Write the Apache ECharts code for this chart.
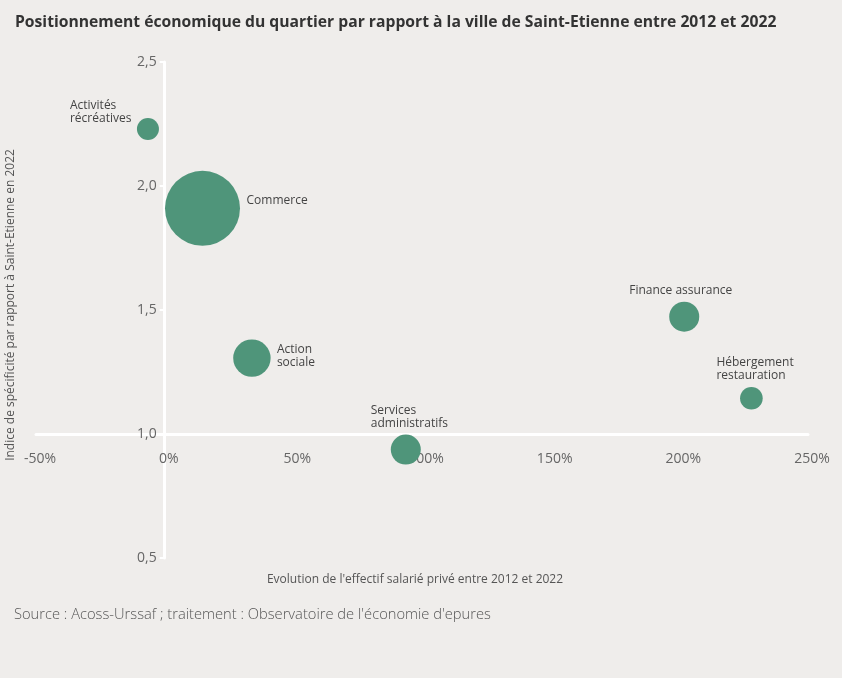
<!DOCTYPE html>
<html>
<head>
<meta charset="utf-8">
<script src="https://cdn.jsdelivr.net/npm/echarts@6/dist/echarts.min.js"></script>
<style>
  html, body { margin: 0; padding: 0; background: #efedeb; }
  #chart { width: 842px; height: 678px; }
</style>
</head>
<body>
<div id="chart"></div>
<script>
// ---- Data ----
const secteurs = ['Activités récréatives', 'Commerce', 'Action sociale', 'Services administratifs', 'Finance assurance', 'Hébergement restauration'];
const etiquettes = ['Activités\nrécréatives', 'Commerce', 'Action\nsociale', 'Services\nadministratifs', 'Finance assurance', 'Hébergement\nrestauration'];
const evolutionEffectif = [-6.5, 14.7, 33.9, 93.7, 201.9, 228.0];   // % 2012-2022
const indiceSpecificite = [2.23, 1.91, 1.306, 0.937, 1.473, 1.144];  // 2022
const tailleBulle = [121, 1406, 350, 225, 225, 128];                  // relative weight (bubble area)
const xTicks = [-50, 0, 50, 100, 150, 200, 250];
const yTicks = [0.5, 1.0, 1.5, 2.0, 2.5];

// ---- Label placement (style, not data) ----
const labelOffsets = {
  'Activités récréatives': [-78, -30],
  'Commerce': [44, -14],
  'Action sociale': [25, -15],
  'Services administratifs': [-35, -46],
  'Finance assurance': [-55, -33],
  'Hébergement restauration': [-35, -42]
};

const FONT = 'Open Sans';
const chart = echarts.init(document.getElementById('chart'), null, { renderer: 'canvas' });

const data = secteurs.map((s, i) => ({
  name: s,
  value: [evolutionEffectif[i], indiceSpecificite[i], tailleBulle[i]],
  label: {
    show: true,
    formatter: etiquettes[i],
    position: 'inside',
    align: 'left',
    verticalAlign: 'top',
    offset: labelOffsets[s]
  }
}));

const W = 842, H = 678;
const gridLeft = 36, gridRight = 34, gridTop = 62, gridBottom = 120;
const plotW = W - gridLeft - gridRight;
const plotH = H - gridTop - gridBottom;
const xMin = xTicks[0], xMax = xTicks[xTicks.length - 1];
const yMin = yTicks[0], yMax = yTicks[yTicks.length - 1];
// x axis sits at index 1.0, y axis sits at 0 %
const xAxisShift = -plotH * (1.0 - yMin) / (yMax - yMin);
const yAxisShift = -plotW * (0 - xMin) / (xMax - xMin);

chart.setOption({
  backgroundColor: '#efedeb',
  textStyle: { fontFamily: FONT },
  title: {
    text: 'Positionnement économique du quartier par rapport à la ville de Saint-Etienne entre 2012 et 2022',
    left: 10,
    top: 10,
    textStyle: { fontFamily: FONT, fontSize: 15.7, fontWeight: 'bold', color: '#333333' }
  },
  graphic: [{
    type: 'text',
    left: 14,
    top: 607,
    style: {
      text: "Source : Acoss-Urssaf ; traitement : Observatoire de l'économie d'epures",
      font: '300 14.7px "' + FONT + '"',
      fill: '#555555'
    }
  }],
  grid: { left: gridLeft, right: gridRight, top: gridTop, bottom: gridBottom, containLabel: false, outerBoundsMode: 'none' },
  xAxis: {
    type: 'value',
    min: xMin,
    max: xMax,
    interval: 50,
    offset: xAxisShift,
    axisLine: { show: true, onZero: false, lineStyle: { color: '#ffffff', width: 3 } },
    axisTick: { show: false },
    splitLine: { show: false },
    axisLabel: {
      margin: 18,
      fontSize: 14,
      color: '#666666',
      fontFamily: FONT,
      padding: [0, 0, 0, 8],
      formatter: v => v + '%'
    },
    name: "Evolution de l'effectif salarié privé entre 2012 et 2022",
    nameLocation: 'middle',
    nameGap: 140,
    nameTextStyle: { fontSize: 12, color: '#555555', fontFamily: FONT, padding: [0, 14, 0, 0] }
  },
  yAxis: {
    type: 'value',
    min: yMin,
    max: yMax,
    interval: 0.5,
    offset: yAxisShift,
    axisLine: { show: true, onZero: false, lineStyle: { color: '#ffffff', width: 3 } },
    axisTick: { show: true, length: 5, lineStyle: { color: '#ffffff', width: 2 } },
    splitLine: { show: false },
    axisLabel: {
      margin: 8,
      fontSize: 14,
      color: '#666666',
      fontFamily: FONT,
      formatter: v => v.toFixed(1).replace('.', ',')
    },
    name: 'Indice de spécificité par rapport à Saint-Etienne en 2022',
    nameLocation: 'middle',
    nameGap: 148,
    nameRotate: 90,
    nameTextStyle: { fontSize: 12, color: '#555555', fontFamily: FONT, padding: [0, 0, 0, 10] }
  },
  series: [{
    type: 'scatter',
    data: data,
    symbolSize: d => 2 * Math.sqrt(d[2]),
    itemStyle: { color: '#4f957a', opacity: 1 },
    label: { color: '#444444', fontSize: 12, lineHeight: 13, fontFamily: FONT },
    emphasis: { disabled: true },
    z: 3
  }]
});
</script>
</body>
</html>
